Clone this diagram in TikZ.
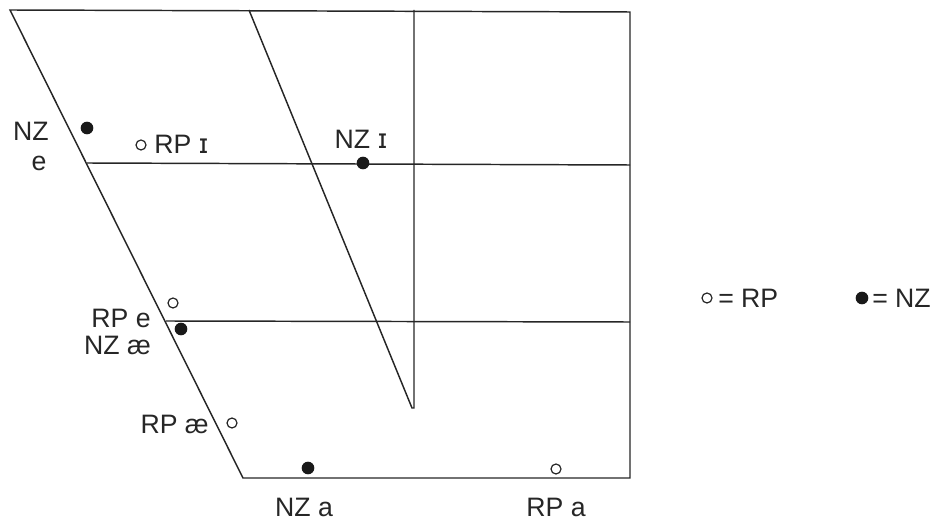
\documentclass[tikz,border=0pt]{standalone}
\usepackage{fontspec}
\setmainfont{Liberation Sans}
\newfontfamily\ipafont{DejaVu Sans}
\newcommand{\smallcapI}{{\ipafont ɪ}}
\begin{document}
\begin{tikzpicture}[x=0.75pt,y=-0.75pt,
  chartline/.style={line width=1.1pt,black!85},
  lab/.style={font=\fontsize{20pt}{22pt}\selectfont,inner sep=0pt,text=black!85},
  fulldot/.style={circle,fill=black!90,inner sep=0pt,minimum size=9.5pt},
  opendot/.style={circle,draw=black!85,line width=0.9pt,inner sep=0pt,minimum size=7.5pt}]
\useasboundingbox (0,0) rectangle (942,523);
% frame
\coordinate (tl) at (10,10);
\coordinate (tr) at (630,12);
\coordinate (bl) at (243,478);
\coordinate (br) at (630,478);
\coordinate (mt) at (249,10);
\coordinate (mb) at (412,408);
\coordinate (vt) at (414,10);
\coordinate (vb) at (414,408);
\coordinate (h1l) at (87,163);
\coordinate (h1r) at (630,165);
\coordinate (h2l) at (166,321);
\coordinate (h2r) at (630,322);
\draw[chartline] (bl) -- (tl) -- (tr) -- (br) -- cycle;
\draw[chartline] (mt) -- (mb) -- (vb) -- (vt);
\draw[chartline] (h1l) -- (h1r);
\draw[chartline] (h2l) -- (h2r);
% points
\node[fulldot] (nze) at (87,128) {};
\node[lab] (lnze1) at (31,131) {NZ};
\node[lab] (lnze2) at (39,163) {e};
\node[opendot] (rpi) at (141,145) {};
\node[lab,anchor=west] (lrpi) at (154,144) {RP \smallcapI};
\node[fulldot] (nzi) at (363,163) {};
\node[lab] (lnzi) at (361,139) {NZ \smallcapI};
\node[opendot] (rpe) at (173,303) {};
\node[lab,anchor=east] (lrpe) at (151,318) {RP e};
\node[fulldot] (nzae) at (181,329) {};
\node[lab,anchor=east] (lnzae) at (151,345) {NZ æ};
\node[opendot] (rpae) at (232,423) {};
\node[lab,anchor=east] (lrpae) at (209,424) {RP æ};
\node[fulldot] (nza) at (308,468) {};
\node[lab] (lnza) at (304,507) {NZ a};
\node[opendot] (rpa) at (556,469) {};
\node[lab] (lrpa) at (556,507) {RP a};
% legend
\node[opendot] (legrp) at (707,298) {};
\node[lab,anchor=west] (leglrp) at (718,298) {= RP};
\node[fulldot] (legnz) at (862,298) {};
\node[lab,anchor=west] (leglnz) at (872,298) {= NZ};
\end{tikzpicture}
\end{document}
